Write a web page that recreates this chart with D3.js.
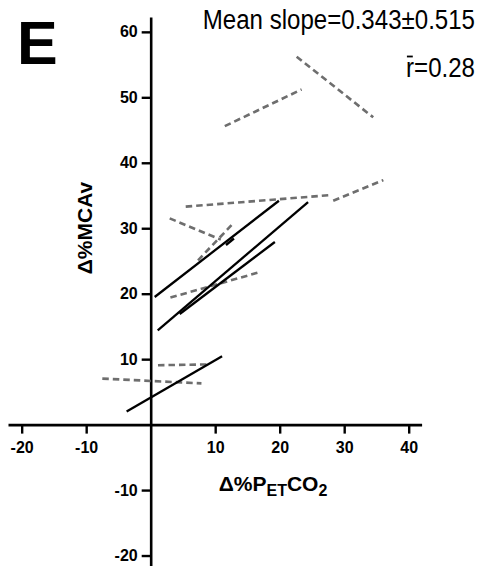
<!DOCTYPE html>
<html>
<head>
<meta charset="utf-8">
<script src="https://cdn.jsdelivr.net/npm/d3@7/dist/d3.min.js"></script>
<style>
  html, body { margin: 0; padding: 0; background: #fff; }
  svg { display: block; }
</style>
</head>
<body>
<svg id="chart" width="479" height="566"></svg>
<script>
// ---- data ----
const xTicks = [-20, -10, 10, 20, 30, 40];
const yTicks = [-20, -10, 10, 20, 30, 40, 50, 60];
// significant subject regressions (solid): [[x1,y1],[x2,y2]]
const solidLines = [
  [[-3.73, 1.99], [11.07, 10.44]],
  [[0.62, 19.5], [19.88, 34.2]],
  [[1.09, 14.4], [24.4, 34.0]],
  [[4.5, 16.9], [19.25, 27.9]],
  [[11.67, 27.44], [12.91, 28.43]]
];
// non-significant subject regressions (dashed)
const dashedLines = [
  [[11.49, 45.6], [23.4, 51.2]],
  [[22.63, 56.2], [34.5, 46.94]],
  [[5.43, 33.3], [27.8, 35.06]],
  [[28.3, 34.2], [36.07, 37.35]],
  [[2.95, 31.5], [10.87, 28.26]],
  [[7.34, 25.1], [12.53, 30.47]],
  [[3.06, 19.4], [16.9, 23.3]],
  [[1.13, 9.07], [9.16, 9.2]],
  [[-7.5, 7.03], [7.87, 6.3]]
];
const panelLabel = "E";
const slopeText = "Mean slope=0.343\u00B10.515";
const rText = "r=0.28"; // r with an overbar (mean r)

// ---- drawing ----
const svg = d3.select("#chart");
const x = d3.scaleLinear().domain([-22.12, 42.0]).range([8, 421.6]);
const y = d3.scaleLinear().domain([-21.6, 62.27]).range([566, 17]);

const x0 = x(0), y0 = y(0);
const fmt = d => String(d);

// X axis
const xAxis = svg.append("g").attr("transform", `translate(0,${y0})`)
  .call(d3.axisBottom(x).tickValues(xTicks).tickFormat(fmt).tickSize(9).tickPadding(8).tickSizeOuter(0));
// Y axis
const yAxis = svg.append("g").attr("transform", `translate(${x0},0)`)
  .call(d3.axisLeft(y).tickValues(yTicks).tickFormat(fmt).tickSize(9).tickPadding(4).tickSizeOuter(0));

[xAxis, yAxis].forEach(g => {
  g.attr("font-size", null).attr("font-family", null);
  g.select(".domain").attr("stroke", "#000").attr("stroke-width", 2.6);
  g.selectAll(".tick line").attr("stroke", "#000").attr("stroke-width", 2.4);
  g.selectAll(".tick text")
    .attr("fill", "#000")
    .style("font-family", "'Liberation Sans', Arial, sans-serif")
    .style("font-weight", "bold")
    .style("font-size", "16px");
});

const line = d3.line().x(d => x(d[0])).y(d => y(d[1]));

svg.append("g").selectAll("path").data(dashedLines).join("path")
  .attr("d", line)
  .attr("fill", "none")
  .attr("stroke", "#6e6e6e")
  .attr("stroke-width", 2.6)
  .attr("stroke-dasharray", "6.5,4");

svg.append("g").selectAll("path").data(solidLines).join("path")
  .attr("d", line)
  .attr("fill", "none")
  .attr("stroke", "#000")
  .attr("stroke-width", 2.3);

// Panel label
svg.append("text")
  .attr("x", 17).attr("y", 63.5)
  .style("font-family", "'Liberation Sans', Arial, sans-serif")
  .style("font-weight", "bold")
  .style("font-size", "61px")
  .text(panelLabel);

// Stats text (condensed)
svg.append("text")
  .attr("transform", "translate(475,28.5) scale(0.86,1)")
  .attr("text-anchor", "end")
  .style("font-family", "'Liberation Sans', Arial, sans-serif")
  .style("font-size", "28px")
  .text(slopeText);

const rg = svg.append("g").attr("transform", "translate(475,76.5) scale(0.86,1)");
const rt = rg.append("text")
  .attr("text-anchor", "end")
  .style("font-family", "'Liberation Sans', Arial, sans-serif")
  .style("font-size", "28px")
  .text(rText);
// overbar above the "r"
const ext = rt.node().getExtentOfChar(0);
rg.append("line")
  .attr("x1", ext.x + 1).attr("x2", ext.x + ext.width - 1.5)
  .attr("y1", -20).attr("y2", -20)
  .attr("stroke", "#000").attr("stroke-width", 1.8);

// Y axis title
svg.append("text")
  .attr("transform", "translate(91.7,228) rotate(-90)")
  .attr("text-anchor", "middle")
  .style("font-family", "'Liberation Sans', Arial, sans-serif")
  .style("font-weight", "bold")
  .style("font-size", "21px")
  .text("\u0394%MCAv");

// X axis title with subscripts
const xt = svg.append("text")
  .attr("x", 273).attr("y", 491)
  .attr("text-anchor", "middle")
  .style("font-family", "'Liberation Sans', Arial, sans-serif")
  .style("font-weight", "bold")
  .style("font-size", "21px");
xt.append("tspan").text("\u0394%P");
xt.append("tspan").attr("dy", 5).style("font-size", "16px").text("ET");
xt.append("tspan").attr("dy", -5).text("CO");
xt.append("tspan").attr("dy", 5).style("font-size", "16px").text("2");
</script>
</body>
</html>
